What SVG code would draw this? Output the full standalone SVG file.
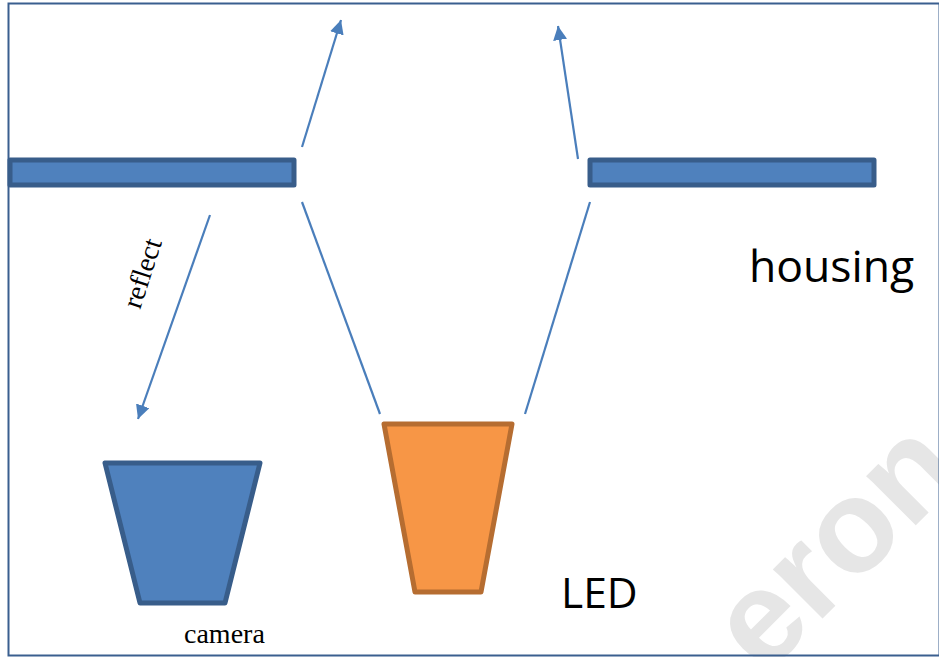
<svg xmlns="http://www.w3.org/2000/svg" width="939" height="657" viewBox="0 0 939 657">
<defs><marker id="arr" markerUnits="userSpaceOnUse" markerWidth="16" markerHeight="16" refX="14" refY="7" orient="auto"><path d="M0 0L14 7L0 14Z" fill="#4a7ebb"/></marker></defs>
<style>
.blue{fill:#4f81bd;stroke:#385d8a;stroke-width:5;stroke-linejoin:round}
.c{fill:none;stroke:#4a7ebb;stroke-width:2.200}
.a{marker-end:url(#arr)}
</style>
<rect width="939" height="657" fill="#fff"/>
<g id="watermark"><text transform="translate(764 677) rotate(-45)" font-family="'Liberation Sans',sans-serif" font-weight="700" font-size="132" fill="#e6e6e6">eron</text></g>
<rect id="frame" x="8.500" y="3.500" width="931" height="652" fill="none" stroke="#3a5f8f" stroke-width="2"/>
<g id="connectors">
<path class="c a" d="M302 147L341 20"/>
<path class="c a" d="M578 159L558 26"/>
<path class="c a" d="M210 215L138 419"/>
<path class="c" d="M302 202L380 414"/>
<path class="c" d="M590 202L525 414"/>
</g>
<g id="housing-left"><rect class="blue" x="10" y="160" width="284" height="25"/></g>
<g id="housing-right"><rect class="blue" x="590" y="160" width="284" height="25"/></g>
<g id="housing-label"><text x="749" y="282" font-family="'Open Sans','Noto Sans',sans-serif" font-size="44.500">housing</text></g>
<g id="camera"><path class="blue" d="M105 463H260L225 603H140Z"/><text x="184" y="643" font-family="'Liberation Serif',serif" font-size="28">camera</text></g>
<g id="led"><path d="M384 424H512L481 592H415Z" fill="#f79646" stroke="#b66d31" stroke-width="5" stroke-linejoin="round"/><text x="561" y="608" font-family="'Open Sans','Noto Sans',sans-serif" font-size="42.500">LED</text></g>
<g id="reflect-label"><text transform="translate(140 310) rotate(-72)" font-family="'Liberation Serif',serif" font-size="28">reflect</text></g>
</svg>
